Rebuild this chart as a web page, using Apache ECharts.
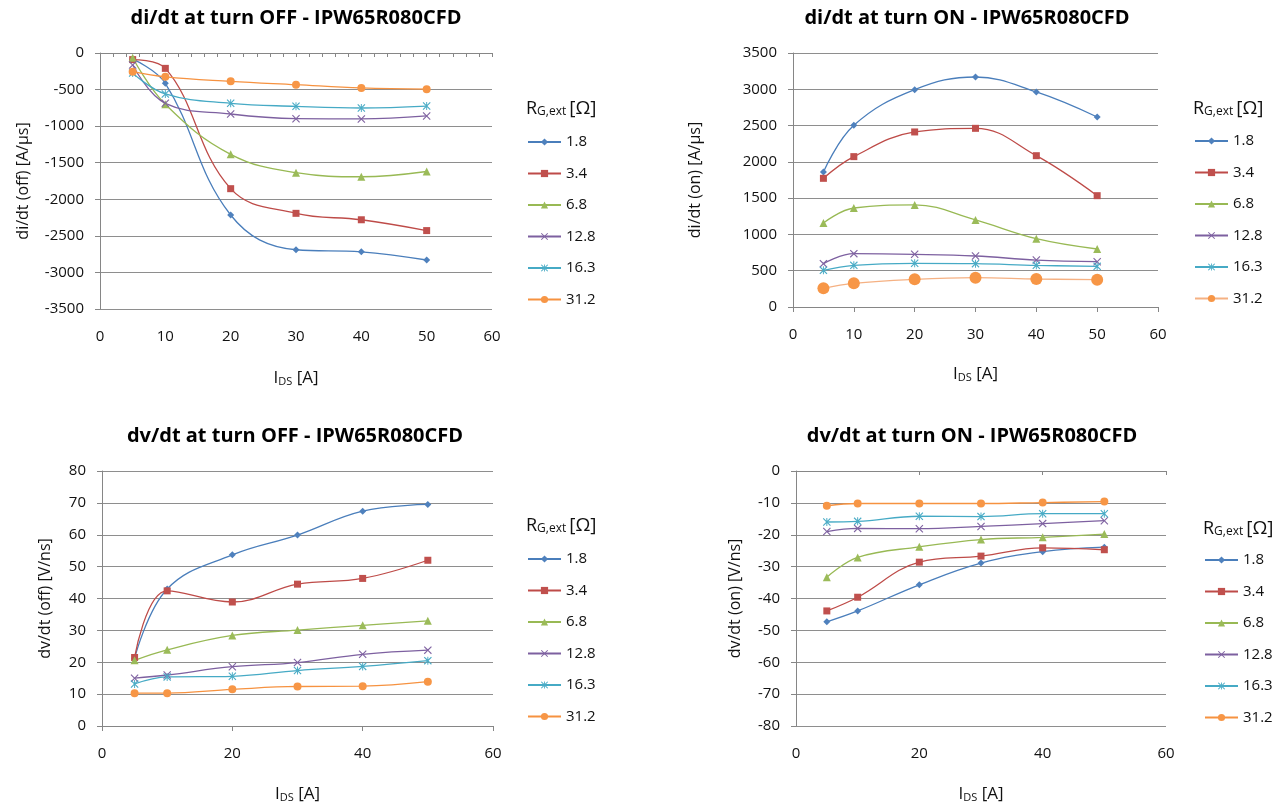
<!DOCTYPE html>
<html><head><meta charset="utf-8">
<script src="https://cdn.jsdelivr.net/npm/echarts@6/dist/echarts.min.js"></script>
<style>
html,body{margin:0;padding:0;background:#fff;width:1287px;height:808px;overflow:hidden;}
.c{position:absolute;}
</style></head><body>
<div id="c1" class="c" style="left:0;top:0;width:643px;height:404px"></div>
<div id="c2" class="c" style="left:643px;top:0;width:644px;height:404px"></div>
<div id="c3" class="c" style="left:0;top:404px;width:643px;height:404px"></div>
<div id="c4" class="c" style="left:643px;top:404px;width:644px;height:404px"></div>
<script>
// ---- data ----
const currents = [5, 10, 20, 30, 40, 50];
const rgLabels = ['1.8', '3.4', '6.8', '12.8', '16.3', '31.2'];

// di/dt at turn OFF [A/us]
const diOff_1_8  = [-85, -415, -2215, -2690, -2718, -2830];
const diOff_3_4  = [-90, -210, -1855, -2192, -2280, -2428];
const diOff_6_8  = [-65, -700, -1385, -1636, -1692, -1620];
const diOff_12_8 = [-165, -688, -834, -898, -902, -861];
const diOff_16_3 = [-275, -560, -688, -729, -752, -725];
const diOff_31_2 = [-255, -326, -387, -433, -478, -495];

// di/dt at turn ON [A/us]
const diOn_1_8  = [1860, 2503, 2995, 3169, 2963, 2618];
const diOn_3_4  = [1773, 2072, 2412, 2462, 2085, 1534];
const diOn_6_8  = [1158, 1364, 1406, 1199, 941, 799];
const diOn_12_8 = [597, 735, 726, 703, 647, 624];
const diOn_16_3 = [505, 574, 602, 597, 574, 560];
const diOn_31_2 = [257, 326, 381, 404, 386, 376];

// dv/dt at turn OFF [V/ns]
const dvOff_1_8  = [21.2, 43.0, 53.7, 59.9, 67.4, 69.5];
const dvOff_3_4  = [21.5, 42.4, 38.9, 44.5, 46.3, 52.0];
const dvOff_6_8  = [20.6, 23.9, 28.4, 30.1, 31.6, 33.0];
const dvOff_12_8 = [15.0, 16.0, 18.6, 19.9, 22.5, 23.8];
const dvOff_16_3 = [13.2, 15.4, 15.6, 17.4, 18.7, 20.5];
const dvOff_31_2 = [10.3, 10.3, 11.5, 12.4, 12.5, 13.9];

// dv/dt at turn ON [V/ns]
const dvOn_1_8  = [-47.3, -43.9, -35.7, -28.9, -25.3, -23.9];
const dvOn_3_4  = [-43.9, -39.6, -28.6, -26.7, -24.1, -24.7];
const dvOn_6_8  = [-33.3, -27.1, -23.8, -21.5, -20.8, -19.8];
const dvOn_12_8 = [-19.0, -18.0, -18.1, -17.4, -16.5, -15.6];
const dvOn_16_3 = [-16.0, -15.8, -14.2, -14.3, -13.4, -13.4];
const dvOn_31_2 = [-10.9, -10.2, -10.2, -10.2, -9.9, -9.6];

// ---- style ----
const FONT = "'Open Sans', 'Liberation Sans', sans-serif";
const TEXT = '#111111';
const GRID_COLOR = '#8e8e8e';
const AXIS_COLOR = '#868686';
const lineColors = ['#4A7EBB', '#BE4B48', '#98B954', '#7D60A0', '#46AAC5', '#F69240'];
const markerColors = ['#4F81BD', '#C0504D', '#9BBB59', '#8064A2', '#4BACC6', '#F79646'];
const X_PATH = 'path://M0,1L1,0L5,4L9,0L10,1L6,5L10,9L9,10L5,6L1,10L0,9L4,5Z';
const STAR_PATH = 'path://M0,1L1,0L5,4L9,0L10,1L6,5L10,9L9,10L5,6L1,10L0,9L4,5ZM4.4,0L5.6,0L5.6,10L4.4,10Z';
const symbols = ['diamond', 'rect', 'triangle', X_PATH, STAR_PATH, 'circle'];
const symbolSizes = [7, 7, 8, 8, 8, 8];
const plain = v => String(v);

function build(id, c) {
  const chart = echarts.init(document.getElementById(id));
  const series = c.values.map((vals, i) => {
    const big = c.bigLast && i === 5;
    return {
      name: rgLabels[i], type: 'line', xAxisIndex: 0, yAxisIndex: 0,
      data: currents.map((x, j) => [x, vals[j]]),
      smooth: 0.4,
      symbol: symbols[i],
      symbolSize: big ? 12 : symbolSizes[i],
      showSymbol: true,
      lineStyle: { color: big ? '#F5B183' : lineColors[i], width: 1.3 },
      itemStyle: { color: markerColors[i] },
      emphasis: { disabled: true },
      animation: false
    };
  });
  const xAxes = [{
    type: 'value', position: 'bottom', min: 0, max: 60, interval: c.xInt,
    axisLine: { show: !c.topAxis, onZero: false, lineStyle: { color: AXIS_COLOR } },
    axisTick: { show: !c.topAxis, length: 5, lineStyle: { color: AXIS_COLOR } },
    axisLabel: { margin: 20, fontSize: 15, color: TEXT, fontFamily: FONT, formatter: plain },
    splitLine: { show: false },
    name: '{m|I}{s|DS}{m| [A]}', nameLocation: 'middle', nameGap: c.xNameGap,
    nameTextStyle: {
      rich: {
        m: { fontSize: 17, lineHeight: 22, verticalAlign: 'bottom', color: TEXT, fontFamily: FONT },
        s: { fontSize: 11, lineHeight: 13, verticalAlign: 'bottom', color: TEXT, fontFamily: FONT }
      }
    }
  }];
  if (c.topAxis) {
    xAxes.push({
      type: 'value', position: 'top', min: 0, max: 60, interval: c.topInt,
      axisLine: { show: true, onZero: false, lineStyle: { color: AXIS_COLOR } },
      axisTick: { show: true, inside: true, length: 4, lineStyle: { color: AXIS_COLOR } },
      axisLabel: { show: false }, splitLine: { show: false }
    });
  }
  chart.setOption({
    backgroundColor: 'transparent',
    animation: false,
    title: [
      { text: c.title, left: c.titleX, top: c.titleTop, textAlign: 'center', padding: 0,
        textStyle: { fontSize: 20, fontWeight: 'bold', color: '#000', fontFamily: FONT, lineHeight: 24 } },
      { text: '{r|R}{s|G,ext}{b|[Ω]}', left: c.ltLeft, top: c.ltTop, padding: 0,
        textStyle: { fontWeight: 'normal', rich: {
          r: { fontSize: 18, lineHeight: 22, verticalAlign: 'bottom', color: TEXT, fontFamily: FONT, fontWeight: 'normal' },
          s: { fontSize: 12, lineHeight: 12, verticalAlign: 'bottom', color: TEXT, fontFamily: FONT, fontWeight: 'normal' },
          b: { fontSize: 19, lineHeight: 22, verticalAlign: 'bottom', color: TEXT, fontFamily: FONT, fontWeight: 'normal', padding: [0, 0, 0, 3] }
        } } }
    ],
    grid: { left: c.grid[0], top: c.grid[1], width: c.grid[2], height: c.grid[3] },
    xAxis: xAxes,
    yAxis: {
      type: 'value', min: c.yMin, max: c.yMax, interval: c.yInt,
      axisLine: { show: true, onZero: false, lineStyle: { color: AXIS_COLOR } },
      axisTick: { show: true, length: 5, lineStyle: { color: AXIS_COLOR } },
      axisLabel: { margin: 16, fontSize: 15, color: TEXT, fontFamily: FONT, formatter: plain },
      splitLine: { show: true, lineStyle: { color: GRID_COLOR, width: 1 } },
      name: c.yName, nameLocation: 'middle', nameRotate: 90, nameGap: c.yNameGap,
      nameTextStyle: { fontSize: 16, color: TEXT, fontFamily: FONT, lineHeight: 20 }
    },
    legend: {
      orient: 'vertical', left: c.legLeft, top: c.legTop, padding: 0,
      itemWidth: 33, itemHeight: 9, itemGap: 15.5, selectedMode: false,
      data: rgLabels,
      textStyle: { fontSize: 15, color: TEXT, fontFamily: FONT, lineHeight: 16 }
    },
    series: series
  });
}

build('c1', {
  title: 'di/dt at turn OFF - IPW65R080CFD', titleX: 296, titleTop: 6,
  grid: [100, 53, 392, 256], yMin: -3500, yMax: 0, yInt: 500, xInt: 10,
  topAxis: true, topInt: 2, yName: 'di/dt (off) [A/µs]', yNameGap: 67, xNameGap: 56,
  legLeft: 527, legTop: 134, ltLeft: 526, ltTop: 96,
  values: [diOff_1_8, diOff_3_4, diOff_6_8, diOff_12_8, diOff_16_3, diOff_31_2]
});
build('c2', {
  title: 'di/dt at turn ON - IPW65R080CFD', titleX: 324, titleTop: 6,
  grid: [150, 53, 365, 254], yMin: 0, yMax: 3500, yInt: 500, xInt: 10,
  topAxis: false, yName: 'di/dt (on) [A/µs]', yNameGap: 88, xNameGap: 54,
  legLeft: 551, legTop: 133, ltLeft: 550, ltTop: 96, bigLast: true,
  values: [diOn_1_8, diOn_3_4, diOn_6_8, diOn_12_8, diOn_16_3, diOn_31_2]
});
build('c3', {
  title: 'dv/dt at turn OFF - IPW65R080CFD', titleX: 295, titleTop: 20,
  grid: [102, 67, 391, 258], yMin: 0, yMax: 80, yInt: 10, xInt: 20,
  topAxis: false, yName: 'dv/dt (off) [V/ns]', yNameGap: 47, xNameGap: 55,
  legLeft: 527, legTop: 147, ltLeft: 526, ltTop: 109,
  values: [dvOff_1_8, dvOff_3_4, dvOff_6_8, dvOff_12_8, dvOff_16_3, dvOff_31_2]
});
build('c4', {
  title: 'dv/dt at turn ON - IPW65R080CFD', titleX: 329, titleTop: 20,
  grid: [153, 67, 370, 258], yMin: -80, yMax: 0, yInt: 10, xInt: 20,
  topAxis: true, topInt: 20, yName: 'dv/dt (on) [V/ns]', yNameGap: 51, xNameGap: 55,
  legLeft: 561, legTop: 148, ltLeft: 560, ltTop: 112,
  values: [dvOn_1_8, dvOn_3_4, dvOn_6_8, dvOn_12_8, dvOn_16_3, dvOn_31_2]
});
</script>
</body></html>
